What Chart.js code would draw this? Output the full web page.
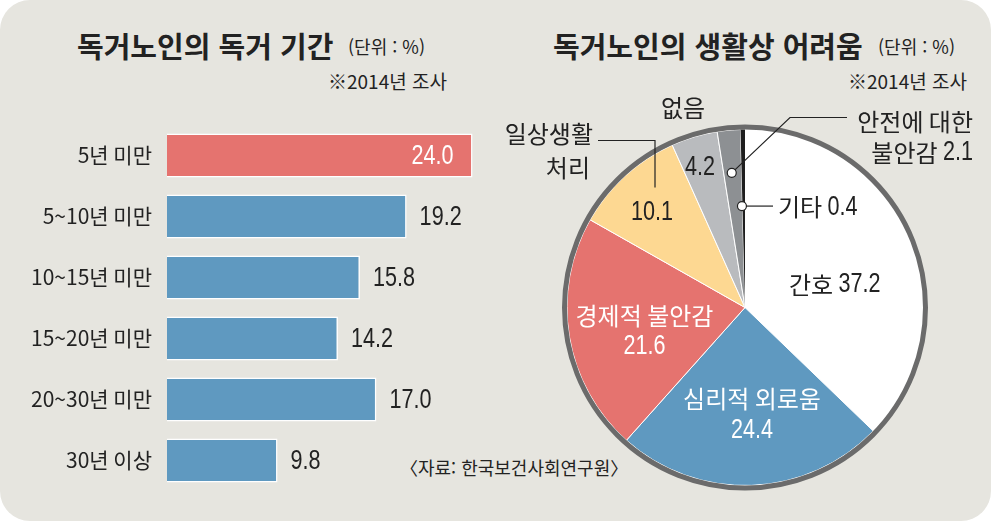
<!DOCTYPE html>
<html lang="ko">
<head>
<meta charset="utf-8">
<script src="https://cdn.jsdelivr.net/npm/chart.js@4.4.1/dist/chart.umd.min.js"></script>
<style>
  html, body { margin: 0; padding: 0; background: #ffffff; }
  #board {
    position: relative;
    width: 991px;
    height: 521px;
    background: #e6e5df;
    border-radius: 30px;
    overflow: hidden;
    font-family: "Noto Sans CJK KR", sans-serif;
    color: #222222;
  }
  .txt { position: absolute; white-space: nowrap; line-height: 1; }
  .title { font-size: 29px; font-weight: 700; }
  .unit { font-size: 18px; }
  .note { font-size: 19px; }
  .source { font-size: 18px; }
  .box { position: absolute; }
</style>
</head>
<body>
<div id="board">
  <div class="txt title" style="left:77px; top:31px;">독거노인의 독거 기간</div>
  <div class="txt unit" style="left:348px; top:37px;">(단위 : %)</div>
  <div class="txt note" style="left:328px; top:71px;">※2014년 조사</div>

  <div class="txt title" style="left:553px; top:31px;">독거노인의 생활상 어려움</div>
  <div class="txt unit" style="left:878px; top:37px;">(단위 : %)</div>
  <div class="txt note" style="left:848px; top:71px;">※2014년 조사</div>

  <div class="txt source" style="left:400px; top:458px;">〈자료: 한국보건사회연구원〉</div>

  <div class="box" style="left:0; top:125px; width:500px; height:366px;">
    <canvas id="periodChart"></canvas>
  </div>
  <div class="box" style="left:495px; top:0; width:496px; height:521px;">
    <canvas id="difficultyChart"></canvas>
  </div>
</div>

<script>
/* data */

const periodLabels = ["5년 미만", "5~10년 미만", "10~15년 미만", "15~20년 미만", "20~30년 미만", "30년 이상"];
const periodValues = [24.0, 19.2, 15.8, 14.2, 17.0, 9.8];

const difficultyLabels = ["간호", "심리적 외로움", "경제적 불안감", "일상생활 처리", "없음", "안전에 대한 불안감", "기타"];
const difficultyValues = [37.2, 24.4, 21.6, 10.1, 4.2, 2.1, 0.4];

/* styles */

const hangulFont = "'Noto Sans CJK KR', sans-serif";
const numFont = "27px 'Liberation Sans', sans-serif";
const numScale = 0.8;
const redColor = "#e5736f";
const blueColor = "#5f99c0";
const sliceColors = ["#ffffff", "#5f99c0", "#e5736f", "#fdd892", "#b9bbbe", "#8d9093", "#1e1e1e"];

Chart.defaults.animation = false;
Chart.defaults.devicePixelRatio = 1;

/* text helper: parts are [text, font, scaleX], drawn on one line */

function drawMixed(ctx, parts, x, y, align) {
    let width = 0;
    parts.forEach(p => {
        ctx.font = p[1];
        width += ctx.measureText(p[0]).width * (p[2] || 1);
    });
    let cursor = align === "right" ? x - width : align === "center" ? x - width / 2 : x;
    ctx.textAlign = "left";
    parts.forEach(p => {
        const sx = p[2] || 1;
        ctx.font = p[1];
        ctx.save();
        ctx.translate(cursor, y);
        ctx.scale(sx, 1);
        ctx.fillText(p[0], 0, 0);
        ctx.restore();
        cursor += ctx.measureText(p[0]).width * sx;
    });
}

/* bar chart value labels */

const barValueLabels = {
    id: "barValueLabels",
    afterDatasetsDraw(chart) {
        const ctx = chart.ctx;
        const bars = chart.getDatasetMeta(0).data;
        ctx.save();
        ctx.textBaseline = "middle";
        bars.forEach((bar, i) => {
            const text = periodValues[i].toFixed(1);
            if (i === 0) {
                ctx.fillStyle = "#ffffff";
                drawMixed(ctx, [[text, numFont, numScale]], bar.x - 19, bar.y + 1, "right");
            } else {
                ctx.fillStyle = "#222222";
                drawMixed(ctx, [[text, numFont, numScale]], bar.x + 13, bar.y + 1, "left");
            }
        });
        ctx.restore();
    }
};

new Chart(document.querySelector("#periodChart"), {
    type: "bar",
    data: {
        labels: periodLabels,
        datasets: [
            {
                data: periodValues,
                backgroundColor: periodValues.map((v, i) => i === 0 ? redColor : blueColor),
                borderColor: "#ffffff",
                borderWidth: 1.5,
                borderSkipped: false,
                barPercentage: 0.72,
                categoryPercentage: 1
            }
        ]
    },
    options: {
        indexAxis: "y",
        responsive: true,
        maintainAspectRatio: false,
        layout: { padding: 0 },
        plugins: {
            legend: { display: false },
            tooltip: { enabled: false }
        },
        scales: {
            x: {
                display: false,
                min: 1.75,
                max: 26
            },
            y: {
                afterFit(scale) {
                    scale.width = 167;
                    scale.paddingTop = 0;
                    scale.paddingBottom = 0;
                },
                grid: { display: false, drawTicks: false },
                border: { display: false },
                ticks: {
                    padding: 15,
                    color: "#222222",
                    font: { family: hangulFont, size: 21 }
                }
            }
        }
    },
    plugins: [barValueLabels]
});

/* pie chart notes */

const pieNotes = {
    id: "pieNotes",
    afterDatasetsDraw(chart) {
        const ctx = chart.ctx;
        const arcs = chart.getDatasetMeta(0).data;
        const cx = arcs[0].x;
        const cy = arcs[0].y;
        const R = arcs[0].outerRadius;
        const han = "24px " + hangulFont;
        const val = i => [difficultyValues[i].toFixed(1), numFont, numScale];
        const at = (i, frac, shift) => {
            const a = (arcs[i].startAngle + arcs[i].endAngle) / 2 + shift * Math.PI / 180;
            return [cx + R * frac * Math.cos(a), cy + R * frac * Math.sin(a)];
        };

        ctx.save();

        // outer ring
        ctx.beginPath();
        ctx.arc(cx, cy, R + 2.5, 0, Math.PI * 2);
        ctx.lineWidth = 5;
        ctx.strokeStyle = "#6b6b6b";
        ctx.stroke();

        ctx.textBaseline = "middle";

        // 간호
        let p = at(0, 0.52, 9);
        ctx.fillStyle = "#222222";
        drawMixed(ctx, [[difficultyLabels[0] + " ", han], val(0)], p[0], p[1], "center");

        // 심리적 외로움
        p = at(1, 0.6, -1.6);
        ctx.fillStyle = "#ffffff";
        drawMixed(ctx, [[difficultyLabels[1], han]], p[0], p[1] - 15, "center");
        drawMixed(ctx, [val(1)], p[0], p[1] + 16, "center");

        // 경제적 불안감
        p = at(2, 0.58, -3.8);
        drawMixed(ctx, [[difficultyLabels[2], han]], p[0], p[1] - 15, "center");
        drawMixed(ctx, [val(2)], p[0], p[1] + 16, "center");

        // 일상생활 처리
        ctx.fillStyle = "#222222";
        p = at(3, 0.75, -1.9);
        drawMixed(ctx, [val(3)], p[0], p[1] + 1, "center");
        const dailyWords = difficultyLabels[3].split(" ");
        drawMixed(ctx, [[dailyWords[0], han]], cx - 152, cy - 174, "right");
        drawMixed(ctx, [[dailyWords[1], han]], cx - 155, cy - 140, "right");
        ctx.lineWidth = 1.2;
        ctx.strokeStyle = "#222222";
        ctx.beginPath();
        ctx.moveTo(cx - 147, cy - 167);
        ctx.lineTo(cx - 90, cy - 167);
        ctx.lineTo(cx - 90, cy - 120);
        ctx.stroke();

        // 없음
        p = at(4, 0.83, -1.2);
        drawMixed(ctx, [val(4)], p[0], p[1] + 1, "center");
        drawMixed(ctx, [[difficultyLabels[4], han]], cx - 62, cy - 200, "center");

        // 안전에 대한 불안감
        p = at(5, 0.76, -0.4);
        ctx.beginPath();
        ctx.moveTo(p[0], p[1]);
        ctx.lineTo(cx + 45, cy - 190);
        ctx.lineTo(cx + 102, cy - 190);
        ctx.stroke();
        ctx.beginPath();
        ctx.arc(p[0], p[1], 4.5, 0, Math.PI * 2);
        ctx.fillStyle = "#ffffff";
        ctx.fill();
        ctx.stroke();
        ctx.fillStyle = "#222222";
        const safeWords = difficultyLabels[5].split(" ");
        drawMixed(ctx, [[safeWords[0] + " " + safeWords[1], han]], cx + 228, cy - 186, "right");
        drawMixed(ctx, [[safeWords[2] + " ", han], val(5)], cx + 228, cy - 155, "right");

        // 기타
        p = at(6, 0.57, -1.0);
        ctx.beginPath();
        ctx.moveTo(p[0], p[1]);
        ctx.lineTo(cx + 28, p[1]);
        ctx.stroke();
        ctx.beginPath();
        ctx.arc(p[0], p[1], 4.5, 0, Math.PI * 2);
        ctx.fillStyle = "#ffffff";
        ctx.fill();
        ctx.stroke();
        ctx.fillStyle = "#222222";
        drawMixed(ctx, [[difficultyLabels[6] + " ", han], val(6)], cx + 33, p[1] + 1, "left");

        ctx.restore();
    }
};

new Chart(document.querySelector("#difficultyChart"), {
    type: "pie",
    data: {
        labels: difficultyLabels,
        datasets: [
            {
                data: difficultyValues,
                backgroundColor: sliceColors,
                borderColor: "#ffffff",
                borderWidth: [1, 1, 1, 1, 1, 1, 0]
            }
        ]
    },
    options: {
        responsive: true,
        maintainAspectRatio: false,
        radius: 178,
        layout: { padding: { top: 94, left: 4, right: 0, bottom: 0 } },
        plugins: {
            legend: { display: false },
            tooltip: { enabled: false }
        }
    },
    plugins: [pieNotes]
});
</script>
</body>
</html>
